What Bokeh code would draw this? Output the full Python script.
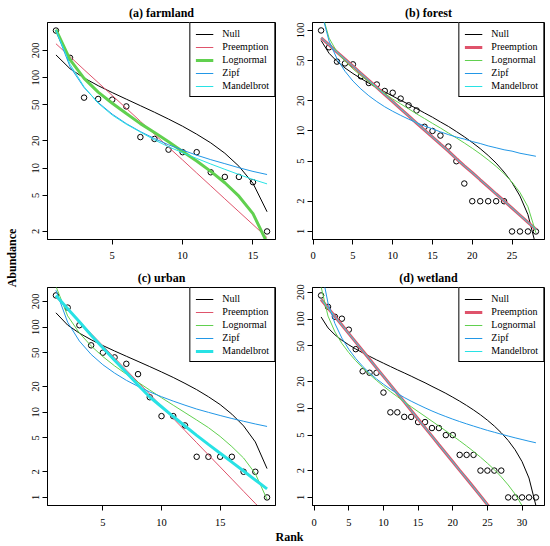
from bokeh.plotting import figure
from bokeh.models import Range1d, FixedTicker, PrintfTickFormatter, Legend, LegendItem, Label
from bokeh.layouts import row, column
from bokeh.embed import file_html
from bokeh.resources import INLINE

FONT = "Liberation Serif"
MODELS = ["Null", "Preemption", "Lognormal", "Zipf", "Mandelbrot"]
COLORS = ["black", "#DF536B", "#61D04F", "#2297E6", "#28E2E5"]

# ---------------- (a) farmland ----------------
obs_a = [330, 165, 60, 58, 57, 48, 22, 21, 16, 15, 15, 9, 8, 8, 7, 2]
null_a = [177.7, 125.1, 98.9, 81.3, 68.2, 57.7, 48.9, 41.4, 34.8, 29.0, 23.7, 19.0, 14.6, 10.5, 6.8, 3.3]
pre_a = [236, 170, 122, 88, 63.4, 45.7, 32.9, 23.7, 17.0, 12.3, 8.84, 6.37, 4.58, 3.30, 2.38, 1.71]
logn_a = [338, 158, 98, 69, 52, 40, 31, 24.7, 19.5, 15.3, 12.0, 9.2, 6.9, 4.9, 3.15, 1.5]
zipf_a = [330, 132, 77.4, 53, 39.4, 31.0, 25.3, 21.2, 18.1, 15.8, 13.9, 12.4, 11.2, 10.1, 9.2, 8.5]
mand_a = [335, 140, 79, 52, 38.5, 30.5, 25, 20.5, 17.2, 14.8, 12.8, 11.1, 9.7, 8.5, 7.5, 6.7]

# ---------------- (b) forest ----------------
obs_b = [100, 68, 49, 47, 46, 35, 30, 29, 25, 24, 21, 18, 16, 11, 10, 9, 7, 5, 3,
         2, 2, 2, 2, 2, 1, 1, 1, 1]
null_b = [79.5, 59.3, 49.2, 42.4, 37.3, 33.3, 29.9, 27.0, 24.5, 22.2, 20.2, 18.4, 16.7, 15.1,
          13.7, 12.3, 11.1, 9.87, 8.75, 7.68, 6.67, 5.71, 4.79, 3.90, 3.06, 2.25, 1.47, 0.72]
pre_b = [84.5, 71.8, 61.0, 51.9, 44.1, 37.5, 31.9, 27.1, 23.0, 19.6, 16.6, 14.1, 12.0, 10.2,
         8.7, 7.4, 6.3, 5.3, 4.5, 3.85, 3.27, 2.78, 2.36, 2.01, 1.71, 1.45, 1.23, 1.05]
logn_b = [160, 84, 61, 49.5, 41.5, 35.5, 30.8, 26.8, 23.6, 20.8, 18.6, 16.6, 14.8, 13.3,
          11.9, 10.7, 9.55, 8.53, 7.60, 6.73, 5.92, 5.15, 4.44, 3.76, 3.10, 2.44, 1.76, 0.97]
zipf_b = [157, 78.5, 52.3, 39.3, 31.4, 26.2, 22.4, 19.6, 17.4, 15.7, 14.3, 13.1, 12.1, 11.2,
          10.5, 9.8, 9.2, 8.7, 8.3, 7.85, 7.5, 7.1, 6.8, 6.5, 6.3, 6.0, 5.8, 5.6]
mand_b = [84.6, 71.8, 61.0, 51.9, 44.1, 37.5, 31.9, 27.1, 23.0, 19.6, 16.6, 14.1, 12.0, 10.2,
          8.7, 7.4, 6.3, 5.3, 4.5, 3.85, 3.27, 2.78, 2.36, 2.01, 1.71, 1.45, 1.23, 1.05]

# ---------------- (c) urban ----------------
obs_c = [235, 169, 105, 61, 50, 44, 37, 28, 15, 9, 9, 7, 3, 3, 3, 3, 2, 2, 1]
null_c = [146.8, 105.4, 84.7, 70.9, 60.6, 52.3, 45.4, 39.5, 34.3, 29.7, 25.6, 21.8, 18.4, 15.2,
          12.3, 9.49, 6.91, 4.48, 2.18]
pre_c = [224, 161, 116, 83.8, 60.4, 43.5, 31.3, 22.6, 16.3, 11.7, 8.45, 6.09, 4.39, 3.16,
         2.28, 1.64, 1.18, 0.85, 0.61]
logn_c = [300, 135, 85, 60, 45, 35, 28, 22.5, 18.2, 14.8, 12.1, 9.9, 8.1, 6.6, 5.2, 3.95,
          2.9, 1.9, 0.95]
zipf_c = [270, 113.5, 68.4, 47.7, 36.1, 28.8, 23.7, 20.1, 17.3, 15.2, 13.5, 12.1, 10.9, 9.97,
          9.15, 8.44, 7.83, 7.28, 6.81]
mand_c = [234, 164, 115, 80, 57, 40.7, 29.2, 20.9, 15.1, 11.6, 8.9, 6.9, 5.35, 4.19, 3.30,
          2.60, 2.04, 1.60, 1.26]

# ---------------- (d) wetland ----------------
obs_d = [184, 137, 106, 101, 76, 46, 26, 25, 25, 15, 9, 9, 8, 8, 7, 7, 6, 6, 5, 5,
         3, 3, 3, 2, 2, 2, 2, 1, 1, 1, 1, 1]
null_d = [105.6, 79.6, 66.6, 57.9, 51.4, 46.2, 41.9, 38.2, 34.9, 32.0, 29.4, 27.0, 24.9, 22.9,
          21.0, 19.3, 17.6, 16.1, 14.7, 13.3, 12.0, 10.75, 9.57, 8.44, 7.35, 6.31, 5.31, 4.35,
          3.42, 2.52, 1.65, 0.81]
pre_d = [166, 133, 107, 85.7, 68.7, 55.1, 44.2, 35.4, 28.4, 22.8, 18.3, 14.7, 11.8, 9.43,
         7.57, 6.07, 4.87, 3.90, 3.13, 2.51, 2.01, 1.62, 1.30, 1.04, 0.83, 0.67, 0.54, 0.43,
         0.345, 0.277, 0.222, 0.178]
logn_d = [230, 108, 71.8, 53.3, 42.0, 34.1, 28.4, 24.0, 20.5, 17.7, 15.4, 13.5, 11.8, 10.4,
          9.18, 8.11, 7.16, 6.32, 5.58, 4.91, 4.31, 3.77, 3.28, 2.83, 2.42, 2.05, 1.70, 1.38,
          1.09, 0.81, 0.54, 0.25]
zipf_d = [371, 150.7, 89, 61.2, 45.8, 36.1, 29.5, 24.8, 21.3, 18.6, 16.4, 14.7, 13.2, 12.0,
          11.0, 10.1, 9.32, 8.65, 8.07, 7.55, 7.09, 6.68, 6.31, 5.97, 5.65, 5.38, 5.12, 4.88,
          4.66, 4.46, 4.27, 4.10]
mand_d = [166, 133, 107, 85.7, 68.7, 55.1, 44.2, 35.4, 28.4, 22.8, 18.3, 14.7, 11.8, 9.43,
          7.57, 6.07, 4.87, 3.90, 3.13, 2.51, 2.01, 1.62, 1.30, 1.04, 0.83, 0.67, 0.54, 0.43,
          0.345, 0.277, 0.222, 0.178]

titles = ["(a) farmland", "(b) forest", "(c) urban", "(d) wetland"]
best = ["Lognormal", "Preemption", "Mandelbrot", "Preemption"]
x_ticks = [[5, 10, 15], [0, 5, 10, 15, 20, 25], [5, 10, 15], [0, 5, 10, 15, 20, 25, 30]]
y_ticks = [[2, 5, 10, 20, 50, 100, 200], [1, 2, 5, 10, 20, 50, 100],
           [1, 2, 5, 10, 20, 50, 100, 200], [1, 2, 5, 10, 20, 50, 100, 200]]
y_lims = [(1.63, 405), (0.832, 120), (0.804, 291), (0.812, 226)]


def panel(title, obs, fits, best_name, xt, yt, ylim, width, height, bl, br, bt, bb, xstand):
    n = len(obs)
    ranks = list(range(1, n + 1))
    ext = (n - 1) * 0.04
    p = figure(width=width, height=height, x_range=Range1d(1 - ext, n + ext),
               y_range=Range1d(*ylim), y_axis_type="log", toolbar_location=None,
               output_backend="svg", min_border_left=bl, min_border_right=br,
               min_border_top=bt, min_border_bottom=bb, title=title)
    p.title.align = "center"
    p.title.text_font = FONT
    p.title.text_font_size = "12px"
    p.title.text_font_style = "bold"
    p.title.text_color = "black"
    p.title.standoff = 5
    p.grid.visible = False
    p.outline_line_color = "black"
    p.outline_line_alpha = 1
    p.outline_line_width = 1
    p.background_fill_color = "white"
    p.border_fill_color = "white"
    for ax in (p.xaxis, p.yaxis):
        ax.major_tick_in = 0
        ax.major_tick_out = 5
        ax.minor_tick_line_color = None
        ax.axis_line_color = "black"
        ax.major_tick_line_color = "black"
        ax.major_label_text_font = FONT
        ax.major_label_text_font_size = "10.5px"
        ax.major_label_text_color = "black"
    p.xaxis.ticker = FixedTicker(ticks=xt)
    p.xaxis.major_label_standoff = xstand
    p.yaxis.ticker = FixedTicker(ticks=yt)
    p.yaxis.formatter = PrintfTickFormatter(format="%d")
    p.yaxis.major_label_orientation = "vertical"
    p.yaxis.major_label_standoff = 3

    p.scatter(ranks, obs, marker="circle", size=5.5, fill_color=None,
              line_color="black", line_width=1)
    items = []
    for name, col, vals in zip(MODELS, COLORS, fits):
        lw = 3 if name == best_name else 1
        r = p.line(ranks, vals, line_color=col, line_width=lw)
        items.append(LegendItem(label=name, renderers=[r]))
    leg = Legend(items=items, location="top_right")
    leg.margin = 0
    leg.padding = 5
    leg.spacing = 2
    leg.label_standoff = 9
    leg.glyph_width = 18
    leg.glyph_height = 10
    leg.label_height = 10
    leg.label_text_font = FONT
    leg.label_text_font_size = "10px"
    leg.label_text_color = "black"
    leg.border_line_color = "black"
    leg.border_line_width = 1
    leg.border_line_alpha = 1
    leg.background_fill_color = "white"
    leg.background_fill_alpha = 1
    p.add_layout(leg)
    return p


fa = panel(titles[0], obs_a, [null_a, pre_a, logn_a, zipf_a, mand_a], best[0],
           x_ticks[0], y_ticks[0], y_lims[0], 272, 265, 27, 17, 22, 26, 7)
fb = panel(titles[1], obs_b, [null_b, pre_b, logn_b, zipf_b, mand_b], best[1],
           x_ticks[1], y_ticks[1], y_lims[1], 257, 265, 20, 5, 22, 26, 7)
fc = panel(titles[2], obs_c, [null_c, pre_c, logn_c, zipf_c, mand_c], best[2],
           x_ticks[2], y_ticks[2], y_lims[2], 272, 266, 27, 17, 22, 26, 8)
fd = panel(titles[3], obs_d, [null_d, pre_d, logn_d, zipf_d, mand_d], best[3],
           x_ticks[3], y_ticks[3], y_lims[3], 257, 266, 20, 5, 22, 26, 8)


def label_fig(width, height, text, x, y, angle):
    f = figure(width=width, height=height, toolbar_location=None, output_backend="svg",
               x_axis_location=None, y_axis_location=None, min_border=0,
               x_range=Range1d(0, 1), y_range=Range1d(0, 1))
    f.grid.visible = False
    f.outline_line_color = None
    f.add_layout(Label(x=x, y=y, x_units="screen", y_units="screen", text=text,
                       angle=angle, angle_units="deg", text_align="center",
                       text_baseline="middle", text_font=FONT, text_font_size="12px",
                       text_font_style="bold", text_color="black"))
    return f


abund = label_fig(20, 531, "Abundance", 11.5, 273.5, 90)
rank_f = label_fig(549, 14, "Rank", 289, 8.5, 0)

layout = column(row(abund, column(row(fa, fb), row(fc, fd))), rank_f)
open("out.html", "w").write(file_html(layout, INLINE))
